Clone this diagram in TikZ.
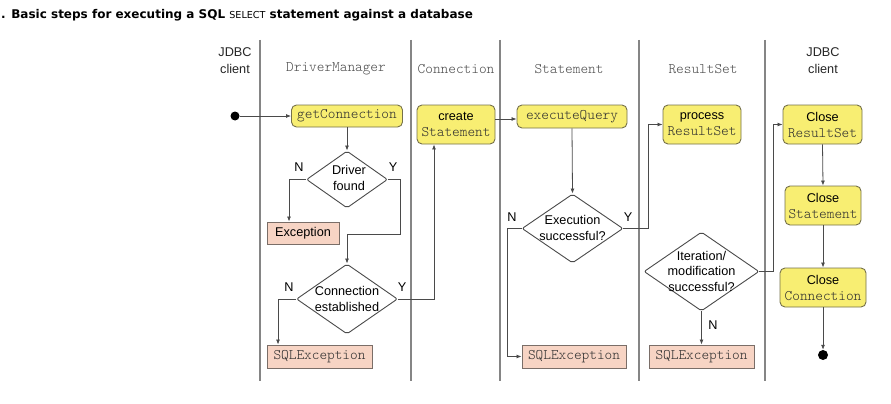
\documentclass[tikz,border=0pt]{standalone}
\usepackage{fontspec}
\setmainfont{Liberation Sans}
\newfontfamily\monof{lmmonolt10-regular.otf}
\newfontfamily\titlef{DejaVu Sans}
\usetikzlibrary{shapes.geometric,arrows.meta}
\definecolor{boxyellow}{HTML}{F8EE72}
\definecolor{boxyellowline}{HTML}{75704A}
\definecolor{excfill}{HTML}{F7D4C4}
\definecolor{excline}{HTML}{7A6E68}
\definecolor{lanecol}{HTML}{858585}
\definecolor{linecol}{HTML}{4A4A4A}
\definecolor{hdrcol}{HTML}{4A4A4A}
\definecolor{monocol}{HTML}{2E2E2E}
\begin{document}
\begin{tikzpicture}[x=1pt,y=-1pt,
  action/.style={draw=boxyellowline, fill=boxyellow, rounded corners=5pt, line width=0.9pt,
    inner sep=0pt, align=center, font=\fontsize{12.7}{16}\selectfont},
  exc/.style={draw=excline, fill=excfill, line width=0.9pt, inner sep=0pt,
    font=\fontsize{12.7}{16}\selectfont},
  decision/.style={diamond, draw=linecol, fill=white, line width=0.9pt, inner sep=0pt,
    rounded corners=2pt},
  dtext/.style={align=center, inner sep=0pt, font=\fontsize{12.7}{15.5}\selectfont},
  lane/.style={draw=lanecol, line width=1.3pt},
  flow/.style={draw=linecol, line width=0.8pt, -{Latex[length=5pt,width=4pt]}},
  lbl/.style={inner sep=0pt, font=\fontsize{12.7}{15}\selectfont},
  hdr/.style={inner sep=0pt, font=\monof\fontsize{14.6}{15}\selectfont, text=hdrcol},
  shdr/.style={inner sep=0pt, align=center, font=\fontsize{12.7}{17}\selectfont, text=black!85},
  dot/.style={circle, fill=black, inner sep=0pt}
]
\useasboundingbox (0,0) rectangle (891,404);
\newcommand{\mn}[1]{{\monof\fontsize{14.6}{16}\selectfont\color{monocol}#1}}

% title
\node[anchor=base west, inner sep=0pt, font=\titlef\bfseries\fontsize{12}{13}\selectfont] (title) at (1,19)
  {. Basic steps for executing a SQL {\mdseries\fontsize{9.6}{10}\selectfont SELECT} statement against a database};

% lanes
\foreach \x/\n in {260/l1,411/l2,500/l3,639/l4,765/l5}{
  \coordinate (\n t) at (\x,40);
  \coordinate (\n b) at (\x,381);
  \draw[lane] (\n t) -- (\n b);
}

% headers
\node[shdr] (h1) at (235,61) {JDBC\\client};
\node[hdr] (h2) at (336,69) {DriverManager};
\node[hdr] (h3) at (456,69) {Connection};
\node[hdr] (h4) at (569,69) {Statement};
\node[hdr] (h5) at (703,69) {ResultSet};
\node[shdr] (h6) at (823,61) {JDBC\\client};

% nodes
\node[dot, minimum size=9pt] (start) at (235,116) {};
\node[action, minimum width=111pt, minimum height=22pt] (getconn) at (347,116) {\mn{getConnection}};
\node[decision, minimum width=81pt, minimum height=57pt] (driver) at (347,179.5) {};
\node[dtext] (drivert) at (349,178) {Driver\\found};
\node[exc, minimum width=72pt, minimum height=22pt] (exc1) at (303,233) {Exception};
\node[decision, minimum width=101pt, minimum height=70pt] (conn) at (347,299) {};
\node[dtext] (connt) at (347,299) {Connection\\established};
\node[exc, minimum width=105pt, minimum height=23pt] (sql1) at (319.5,356.5) {\mn{SQLException}};

\node[action, minimum width=78pt, minimum height=39pt] (cstmt) at (456,124.5) {create\\\mn{Statement}};
\node[action, minimum width=110pt, minimum height=23pt] (eq) at (572,116.5) {\mn{executeQuery}};
\node[decision, minimum width=101pt, minimum height=69pt] (exec) at (572.5,228.5) {};
\node[dtext] (exect) at (572.5,228) {Execution\\successful?};
\node[exc, minimum width=104pt, minimum height=23pt] (sql2) at (574,356.5) {\mn{SQLException}};

\node[action, minimum width=78pt, minimum height=39pt] (prs) at (702,124.5) {process\\\mn{ResultSet}};
\node[decision, minimum width=115pt, minimum height=79pt] (iter) at (701.5,271.5) {};
\node[dtext] (itert) at (701.5,271) {Iteration/\\modification\\successful?};
\node[exc, minimum width=105pt, minimum height=23pt] (sql3) at (701.5,356.5) {\mn{SQLException}};

\node[action, minimum width=79pt, minimum height=39pt] (crs) at (822.5,124.5) {Close\\\mn{ResultSet}};
\node[action, minimum width=76pt, minimum height=39pt] (cst) at (823,205.5) {Close\\\mn{Statement}};
\node[action, minimum width=86pt, minimum height=39pt] (ccon) at (823,287.5) {Close\\\mn{Connection}};
\node[dot, minimum size=10pt] (end) at (823,355) {};

% labels
\node[lbl] (ln1) at (299,167) {N};
\node[lbl] (ly1) at (393,167) {Y};
\node[lbl] (ln2) at (289,287) {N};
\node[lbl] (ly2) at (402,287) {Y};
\node[lbl] (ln3) at (512,217) {N};
\node[lbl] (ly3) at (628,217) {Y};
\node[lbl] (ln4) at (713,325) {N};

% connectors
\draw[flow] (start) -- (getconn.west);
\draw[flow] (getconn.south) -- (driver.north);
\draw[flow] (driver.west) -| ([xshift=-14pt]exc1.north);
\draw[flow] (driver.east) -| ++(12,55) -| (conn.north);
\draw[flow] (conn.west) -| ([xshift=-41.5pt]sql1.north);
\draw[flow] (conn.east) -| ([xshift=-22pt]cstmt.south);
\draw[flow] ([yshift=5.5pt]cstmt.east) coordinate (ce) -- (ce -| eq.west);
\draw[flow] (eq.south) -- (exec.north);
\draw[flow] (exec.west) -- ++(-14,0) |- (sql2.west);
\draw[flow] (exec.east) -- ++(25,0) |- (prs.west);
\draw[flow] (iter.south) -- (sql3.north);
\draw[flow] (iter.east) -- ++(14,0) |- (crs.west);
\draw[flow] (crs.south) -- (cst.north);
\draw[flow] (cst.south) -- (ccon.north);
\draw[flow] (ccon.south) -- (end.north);
\end{tikzpicture}
\end{document}
